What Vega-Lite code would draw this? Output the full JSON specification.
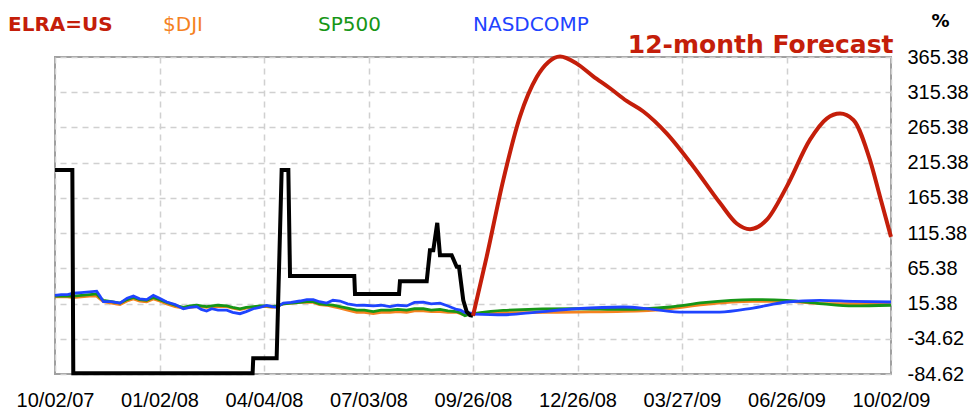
{
  "$schema": "https://vega.github.io/schema/vega-lite/v6.json",
  "width": 836,
  "height": 317,
  "autosize": {"type": "none"},
  "padding": {"left": 55, "top": 57, "right": 78, "bottom": 38},
  "background": "white",
  "config": {
    "view": {"stroke": "#a0a0a0", "strokeWidth": 2},
    "axis": {"gridColor": "#d0d0d0", "gridDash": [6, 5], "gridWidth": 1.5, "domain": false, "ticks": false, "labelFont": "Liberation Sans", "labelFontSize": 20, "labelColor": "#000000", "labelOverlap": false}
  },
  "datasets": {
    "hist": [
      {"t": 0, "v": 205}, {"t": 0.166, "v": 205}, {"t": 0.175, "v": -83.5}, {"t": 1.891, "v": -83.5}, {"t": 1.897, "v": -62.4},
      {"t": 2.121, "v": -62.4}, {"t": 2.169, "v": 205}, {"t": 2.233, "v": 205}, {"t": 2.249, "v": 54.5}, {"t": 2.864, "v": 54.5},
      {"t": 2.871, "v": 29}, {"t": 3.292, "v": 29}, {"t": 3.301, "v": 47}, {"t": 3.557, "v": 47}, {"t": 3.588, "v": 91},
      {"t": 3.62, "v": 91}, {"t": 3.658, "v": 130}, {"t": 3.684, "v": 84}, {"t": 3.796, "v": 84}, {"t": 3.844, "v": 67.6},
      {"t": 3.866, "v": 67.6}, {"t": 3.907, "v": 20}, {"t": 3.94, "v": 3.8}, {"t": 3.971, "v": -1}, {"t": 4.0, "v": -2}
    ],
    "fc": [
      {"t": 4.0, "v": -2, "s": "ELRA=US"}, {"t": 4.131, "v": 82, "s": "ELRA=US"}, {"t": 4.29, "v": 191, "s": "ELRA=US"},
      {"t": 4.45, "v": 281, "s": "ELRA=US"}, {"t": 4.61, "v": 337, "s": "ELRA=US"}, {"t": 4.72, "v": 358, "s": "ELRA=US"},
      {"t": 4.833, "v": 366, "s": "ELRA=US"}, {"t": 4.992, "v": 356, "s": "ELRA=US"}, {"t": 5.15, "v": 338, "s": "ELRA=US"},
      {"t": 5.311, "v": 321, "s": "ELRA=US"}, {"t": 5.47, "v": 303, "s": "ELRA=US"}, {"t": 5.63, "v": 288, "s": "ELRA=US"},
      {"t": 5.853, "v": 257, "s": "ELRA=US"}, {"t": 6.108, "v": 210, "s": "ELRA=US"}, {"t": 6.364, "v": 158, "s": "ELRA=US"},
      {"t": 6.523, "v": 129, "s": "ELRA=US"}, {"t": 6.651, "v": 121, "s": "ELRA=US"}, {"t": 6.81, "v": 134, "s": "ELRA=US"},
      {"t": 7.001, "v": 181, "s": "ELRA=US"}, {"t": 7.225, "v": 248, "s": "ELRA=US"}, {"t": 7.385, "v": 278, "s": "ELRA=US"},
      {"t": 7.512, "v": 285, "s": "ELRA=US"}, {"t": 7.64, "v": 276, "s": "ELRA=US"}, {"t": 7.799, "v": 219, "s": "ELRA=US"},
      {"t": 7.895, "v": 167, "s": "ELRA=US"}, {"t": 8.0, "v": 110, "s": "ELRA=US"}
    ],
    "idxh": [
      {"t": 0, "v": 25, "s": "$DJI"}, {"t": 0.06, "v": 25, "s": "$DJI"}, {"t": 0.12, "v": 25, "s": "$DJI"}, {"t": 0.175, "v": 24, "s": "$DJI"}, {"t": 0.25, "v": 25, "s": "$DJI"}, {"t": 0.33, "v": 26, "s": "$DJI"}, {"t": 0.399, "v": 26, "s": "$DJI"}, {"t": 0.43, "v": 22, "s": "$DJI"}, {"t": 0.463, "v": 18, "s": "$DJI"}, {"t": 0.54, "v": 16, "s": "$DJI"}, {"t": 0.622, "v": 14, "s": "$DJI"}, {"t": 0.69, "v": 19, "s": "$DJI"}, {"t": 0.75, "v": 22, "s": "$DJI"}, {"t": 0.81, "v": 19, "s": "$DJI"}, {"t": 0.877, "v": 18, "s": "$DJI"}, {"t": 0.941, "v": 22, "s": "$DJI"}, {"t": 1.0, "v": 19, "s": "$DJI"}, {"t": 1.069, "v": 15, "s": "$DJI"}, {"t": 1.15, "v": 11, "s": "$DJI"}, {"t": 1.228, "v": 9, "s": "$DJI"}, {"t": 1.29, "v": 10, "s": "$DJI"}, {"t": 1.356, "v": 11, "s": "$DJI"}, {"t": 1.4, "v": 11, "s": "$DJI"}, {"t": 1.451, "v": 10, "s": "$DJI"}, {"t": 1.5, "v": 11, "s": "$DJI"}, {"t": 1.56, "v": 11, "s": "$DJI"}, {"t": 1.643, "v": 11, "s": "$DJI"}, {"t": 1.7, "v": 9, "s": "$DJI"}, {"t": 1.77, "v": 7, "s": "$DJI"}, {"t": 1.83, "v": 9, "s": "$DJI"}, {"t": 1.898, "v": 10, "s": "$DJI"}, {"t": 1.96, "v": 11, "s": "$DJI"}, {"t": 2.026, "v": 11, "s": "$DJI"}, {"t": 2.08, "v": 10, "s": "$DJI"}, {"t": 2.121, "v": 11, "s": "$DJI"}, {"t": 2.185, "v": 15, "s": "$DJI"}, {"t": 2.26, "v": 16, "s": "$DJI"}, {"t": 2.344, "v": 17, "s": "$DJI"}, {"t": 2.41, "v": 17, "s": "$DJI"}, {"t": 2.472, "v": 17, "s": "$DJI"}, {"t": 2.53, "v": 14, "s": "$DJI"}, {"t": 2.6, "v": 13, "s": "$DJI"}, {"t": 2.66, "v": 11, "s": "$DJI"}, {"t": 2.727, "v": 9, "s": "$DJI"}, {"t": 2.8, "v": 6, "s": "$DJI"}, {"t": 2.887, "v": 3, "s": "$DJI"}, {"t": 2.96, "v": 3, "s": "$DJI"}, {"t": 3.046, "v": 1, "s": "$DJI"}, {"t": 3.12, "v": 3, "s": "$DJI"}, {"t": 3.206, "v": 3, "s": "$DJI"}, {"t": 3.28, "v": 4, "s": "$DJI"}, {"t": 3.365, "v": 3, "s": "$DJI"}, {"t": 3.44, "v": 5, "s": "$DJI"}, {"t": 3.525, "v": 5, "s": "$DJI"}, {"t": 3.6, "v": 4, "s": "$DJI"}, {"t": 3.684, "v": 4, "s": "$DJI"}, {"t": 3.76, "v": 3, "s": "$DJI"}, {"t": 3.844, "v": 3, "s": "$DJI"}, {"t": 3.88, "v": 1, "s": "$DJI"}, {"t": 3.923, "v": -1, "s": "$DJI"}, {"t": 3.96, "v": 0, "s": "$DJI"}, {"t": 4.0, "v": 1, "s": "$DJI"},
      {"t": 0, "v": 26, "s": "SP500"}, {"t": 0.06, "v": 26, "s": "SP500"}, {"t": 0.12, "v": 26, "s": "SP500"}, {"t": 0.175, "v": 26, "s": "SP500"}, {"t": 0.25, "v": 27, "s": "SP500"}, {"t": 0.33, "v": 28, "s": "SP500"}, {"t": 0.399, "v": 29, "s": "SP500"}, {"t": 0.43, "v": 24, "s": "SP500"}, {"t": 0.463, "v": 20, "s": "SP500"}, {"t": 0.54, "v": 18, "s": "SP500"}, {"t": 0.622, "v": 16, "s": "SP500"}, {"t": 0.69, "v": 21, "s": "SP500"}, {"t": 0.75, "v": 24, "s": "SP500"}, {"t": 0.81, "v": 21, "s": "SP500"}, {"t": 0.877, "v": 20, "s": "SP500"}, {"t": 0.941, "v": 24, "s": "SP500"}, {"t": 1.0, "v": 21, "s": "SP500"}, {"t": 1.069, "v": 17, "s": "SP500"}, {"t": 1.15, "v": 13, "s": "SP500"}, {"t": 1.228, "v": 10, "s": "SP500"}, {"t": 1.29, "v": 12, "s": "SP500"}, {"t": 1.356, "v": 13, "s": "SP500"}, {"t": 1.4, "v": 12, "s": "SP500"}, {"t": 1.451, "v": 11, "s": "SP500"}, {"t": 1.5, "v": 12, "s": "SP500"}, {"t": 1.56, "v": 13, "s": "SP500"}, {"t": 1.643, "v": 12, "s": "SP500"}, {"t": 1.7, "v": 10, "s": "SP500"}, {"t": 1.77, "v": 8, "s": "SP500"}, {"t": 1.83, "v": 10, "s": "SP500"}, {"t": 1.898, "v": 11, "s": "SP500"}, {"t": 1.96, "v": 12, "s": "SP500"}, {"t": 2.026, "v": 12, "s": "SP500"}, {"t": 2.08, "v": 11, "s": "SP500"}, {"t": 2.121, "v": 12, "s": "SP500"}, {"t": 2.185, "v": 15, "s": "SP500"}, {"t": 2.26, "v": 16, "s": "SP500"}, {"t": 2.344, "v": 17, "s": "SP500"}, {"t": 2.41, "v": 18, "s": "SP500"}, {"t": 2.472, "v": 18, "s": "SP500"}, {"t": 2.53, "v": 15, "s": "SP500"}, {"t": 2.6, "v": 14, "s": "SP500"}, {"t": 2.66, "v": 13, "s": "SP500"}, {"t": 2.727, "v": 11, "s": "SP500"}, {"t": 2.8, "v": 9, "s": "SP500"}, {"t": 2.887, "v": 6, "s": "SP500"}, {"t": 2.96, "v": 6, "s": "SP500"}, {"t": 3.046, "v": 4, "s": "SP500"}, {"t": 3.12, "v": 6, "s": "SP500"}, {"t": 3.206, "v": 6, "s": "SP500"}, {"t": 3.28, "v": 7, "s": "SP500"}, {"t": 3.365, "v": 6, "s": "SP500"}, {"t": 3.44, "v": 8, "s": "SP500"}, {"t": 3.525, "v": 8, "s": "SP500"}, {"t": 3.6, "v": 6, "s": "SP500"}, {"t": 3.684, "v": 7, "s": "SP500"}, {"t": 3.76, "v": 5, "s": "SP500"}, {"t": 3.844, "v": 4, "s": "SP500"}, {"t": 3.88, "v": 2, "s": "SP500"}, {"t": 3.923, "v": -2, "s": "SP500"}, {"t": 3.96, "v": 0, "s": "SP500"}, {"t": 4.0, "v": 1, "s": "SP500"},
      {"t": 0, "v": 27, "s": "NASDCOMP"}, {"t": 0.06, "v": 28, "s": "NASDCOMP"}, {"t": 0.12, "v": 28, "s": "NASDCOMP"}, {"t": 0.175, "v": 30, "s": "NASDCOMP"}, {"t": 0.25, "v": 31, "s": "NASDCOMP"}, {"t": 0.33, "v": 32, "s": "NASDCOMP"}, {"t": 0.399, "v": 33, "s": "NASDCOMP"}, {"t": 0.43, "v": 26, "s": "NASDCOMP"}, {"t": 0.463, "v": 18, "s": "NASDCOMP"}, {"t": 0.54, "v": 18, "s": "NASDCOMP"}, {"t": 0.622, "v": 16, "s": "NASDCOMP"}, {"t": 0.69, "v": 23, "s": "NASDCOMP"}, {"t": 0.75, "v": 26, "s": "NASDCOMP"}, {"t": 0.81, "v": 22, "s": "NASDCOMP"}, {"t": 0.877, "v": 21, "s": "NASDCOMP"}, {"t": 0.941, "v": 27, "s": "NASDCOMP"}, {"t": 1.0, "v": 23, "s": "NASDCOMP"}, {"t": 1.069, "v": 17.5, "s": "NASDCOMP"}, {"t": 1.15, "v": 14, "s": "NASDCOMP"}, {"t": 1.228, "v": 8, "s": "NASDCOMP"}, {"t": 1.29, "v": 10, "s": "NASDCOMP"}, {"t": 1.356, "v": 11, "s": "NASDCOMP"}, {"t": 1.4, "v": 7, "s": "NASDCOMP"}, {"t": 1.451, "v": 4.7, "s": "NASDCOMP"}, {"t": 1.5, "v": 8, "s": "NASDCOMP"}, {"t": 1.56, "v": 6, "s": "NASDCOMP"}, {"t": 1.643, "v": 6, "s": "NASDCOMP"}, {"t": 1.7, "v": 3, "s": "NASDCOMP"}, {"t": 1.77, "v": 1, "s": "NASDCOMP"}, {"t": 1.83, "v": 4, "s": "NASDCOMP"}, {"t": 1.898, "v": 8, "s": "NASDCOMP"}, {"t": 1.96, "v": 10, "s": "NASDCOMP"}, {"t": 2.026, "v": 12.8, "s": "NASDCOMP"}, {"t": 2.08, "v": 11, "s": "NASDCOMP"}, {"t": 2.121, "v": 10, "s": "NASDCOMP"}, {"t": 2.185, "v": 16, "s": "NASDCOMP"}, {"t": 2.26, "v": 17, "s": "NASDCOMP"}, {"t": 2.344, "v": 19, "s": "NASDCOMP"}, {"t": 2.41, "v": 21, "s": "NASDCOMP"}, {"t": 2.472, "v": 21, "s": "NASDCOMP"}, {"t": 2.53, "v": 18, "s": "NASDCOMP"}, {"t": 2.6, "v": 16, "s": "NASDCOMP"}, {"t": 2.66, "v": 20, "s": "NASDCOMP"}, {"t": 2.727, "v": 19, "s": "NASDCOMP"}, {"t": 2.8, "v": 15, "s": "NASDCOMP"}, {"t": 2.887, "v": 12.8, "s": "NASDCOMP"}, {"t": 2.96, "v": 13, "s": "NASDCOMP"}, {"t": 3.046, "v": 12, "s": "NASDCOMP"}, {"t": 3.12, "v": 13, "s": "NASDCOMP"}, {"t": 3.206, "v": 11, "s": "NASDCOMP"}, {"t": 3.28, "v": 13, "s": "NASDCOMP"}, {"t": 3.365, "v": 12, "s": "NASDCOMP"}, {"t": 3.44, "v": 17, "s": "NASDCOMP"}, {"t": 3.525, "v": 17.5, "s": "NASDCOMP"}, {"t": 3.6, "v": 15, "s": "NASDCOMP"}, {"t": 3.684, "v": 16, "s": "NASDCOMP"}, {"t": 3.76, "v": 12, "s": "NASDCOMP"}, {"t": 3.844, "v": 7, "s": "NASDCOMP"}, {"t": 3.88, "v": 6, "s": "NASDCOMP"}, {"t": 3.923, "v": 2.4, "s": "NASDCOMP"}, {"t": 3.96, "v": 2, "s": "NASDCOMP"}, {"t": 4.0, "v": 1.4, "s": "NASDCOMP"}
    ],
    "idxf": [
      {"t": 4.0, "v": 1, "s": "$DJI"}, {"t": 4.29, "v": 2.3, "s": "$DJI"}, {"t": 4.99, "v": 3.3, "s": "$DJI"}, {"t": 5.44, "v": 4.2, "s": "$DJI"}, {"t": 5.885, "v": 8, "s": "$DJI"}, {"t": 6.204, "v": 14, "s": "$DJI"}, {"t": 6.68, "v": 18.6, "s": "$DJI"}, {"t": 7.0, "v": 18.6, "s": "$DJI"}, {"t": 7.32, "v": 15.4, "s": "$DJI"}, {"t": 7.64, "v": 15.4, "s": "$DJI"}, {"t": 8.0, "v": 15.4, "s": "$DJI"},
      {"t": 4.0, "v": 1, "s": "SP500"}, {"t": 4.29, "v": 5.7, "s": "SP500"}, {"t": 4.99, "v": 8, "s": "SP500"}, {"t": 5.44, "v": 7, "s": "SP500"}, {"t": 5.885, "v": 10.5, "s": "SP500"}, {"t": 6.204, "v": 16.6, "s": "SP500"}, {"t": 6.68, "v": 21, "s": "SP500"}, {"t": 7.0, "v": 20, "s": "SP500"}, {"t": 7.32, "v": 15.4, "s": "SP500"}, {"t": 7.64, "v": 12, "s": "SP500"}, {"t": 8.0, "v": 13, "s": "SP500"},
      {"t": 4.0, "v": 0.5, "s": "NASDCOMP"}, {"t": 4.29, "v": -0.5, "s": "NASDCOMP"}, {"t": 4.61, "v": 3.3, "s": "NASDCOMP"}, {"t": 4.99, "v": 8, "s": "NASDCOMP"}, {"t": 5.44, "v": 10.5, "s": "NASDCOMP"}, {"t": 5.725, "v": 7, "s": "NASDCOMP"}, {"t": 6.01, "v": 3.3, "s": "NASDCOMP"}, {"t": 6.36, "v": 3.3, "s": "NASDCOMP"}, {"t": 6.68, "v": 9, "s": "NASDCOMP"}, {"t": 7.0, "v": 17.6, "s": "NASDCOMP"}, {"t": 7.32, "v": 20, "s": "NASDCOMP"}, {"t": 7.64, "v": 18.6, "s": "NASDCOMP"}, {"t": 8.0, "v": 17.6, "s": "NASDCOMP"}
    ]
  },
  "layer": [
    {
      "data": {"name": "idxh"},
      "mark": {"type": "line", "strokeWidth": 2.8},
      "encoding": {
        "x": {"field": "t", "type": "quantitative", "scale": {"domain": [0, 8], "nice": false, "zero": false},
          "axis": {"values": [0, 1, 2, 3, 4, 5, 6, 7, 8], "tickCount": 20, "grid": true, "labelPadding": 16, "labelBound": false, "labelFlush": false,
            "labelExpr": "['10/02/07','01/02/08','04/04/08','07/03/08','09/26/08','12/26/08','03/27/09','06/26/09','10/02/09'][round(datum.value)]",
            "title": "12-month Forecast", "titleX": 838, "titleY": -322, "titleAlign": "right", "titleBaseline": "alphabetic", "titleAnchor": null,
            "titleFont": "DejaVu Sans", "titleFontSize": 25, "titleFontWeight": "bold", "titleColor": "#c41e0a"}},
        "y": {"field": "v", "type": "quantitative", "scale": {"domain": [-84.62, 365.38], "nice": false, "zero": false},
          "axis": {"orient": "right", "values": [-84.62, -34.62, 15.38, 65.38, 115.38, 165.38, 215.38, 265.38, 315.38, 365.38], "tickCount": 20, "grid": true, "labelPadding": 16, "labelBaseline": "middle", "labelBound": false, "labelFlush": false, "labelOverlap": false,
            "labelExpr": "datum.value < 0 ? '-' + format(-datum.value, '.2f') : format(datum.value, '.2f')",
            "title": "%", "titleAngle": 0, "titleX": 49, "titleY": -36, "titleAlign": "center", "titleBaseline": "middle", "titleFont": "DejaVu Sans", "titleFontSize": 18, "titleFontWeight": "bold", "titleColor": "#000000"}},
        "color": {"field": "s", "type": "nominal", "scale": {"domain": ["ELRA=US", "$DJI", "SP500", "NASDCOMP"], "range": ["#c41e0a", "#f5821f", "#169616", "#1f44ff"]},
          "legend": {"orient": "none", "legendX": -67, "legendY": -42, "direction": "horizontal", "title": null, "columns": 4, "gridAlign": "all", "columnPadding": 19,
            "symbolSize": 0, "symbolOpacity": 0, "symbolStrokeWidth": 0, "labelOffset": 0, "labelFont": "DejaVu Sans", "labelFontSize": 20, "labelLimit": 0,
            "encode": {"labels": {"update": {"fill": {"scale": "color", "field": "value"}, "fontWeight": {"signal": "datum.value === 'ELRA=US' ? 'bold' : 'normal'"}}}}},
          "sort": null}
      }
    },
    {
      "data": {"name": "idxf"},
      "mark": {"type": "line", "strokeWidth": 2.8, "interpolate": "monotone"},
      "encoding": {
        "x": {"field": "t", "type": "quantitative"},
        "y": {"field": "v", "type": "quantitative"},
        "color": {"field": "s", "type": "nominal"}
      }
    },
    {
      "mark": {"type": "rule", "color": "#555555", "strokeWidth": 1},
      "encoding": {"y": {"datum": 0, "type": "quantitative"}}
    },
    {
      "data": {"name": "hist"},
      "mark": {"type": "line", "strokeWidth": 4, "color": "#000000"},
      "encoding": {
        "x": {"field": "t", "type": "quantitative"},
        "y": {"field": "v", "type": "quantitative"}
      }
    },
    {
      "mark": {"type": "rule", "color": "#000000", "strokeWidth": 3.5},
      "encoding": {"x": {"datum": 4, "type": "quantitative"}}
    },
    {
      "data": {"name": "fc"},
      "mark": {"type": "line", "strokeWidth": 4, "interpolate": "monotone"},
      "encoding": {
        "x": {"field": "t", "type": "quantitative"},
        "y": {"field": "v", "type": "quantitative"},
        "color": {"field": "s", "type": "nominal"}
      }
    }
  ]
}
